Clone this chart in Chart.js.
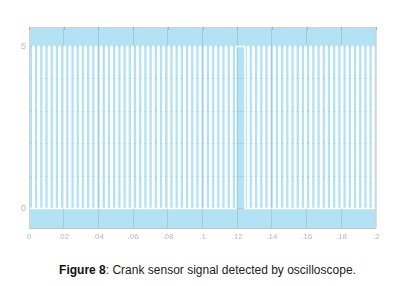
<!DOCTYPE html>
<html>
<head>
<meta charset="utf-8">
<script src="https://cdn.jsdelivr.net/npm/chart.js@4.4.0/dist/chart.umd.min.js"></script>
<style>
  html, body { margin: 0; padding: 0; background: #fff; }
  body { width: 415px; height: 286px; position: relative; overflow: hidden; }
  #wrap { position: absolute; left: 0; top: 0; width: 415px; height: 245px; }
  #caption {
    position: absolute; left: 0; top: 262px; width: 415px; text-align: center;
    font-family: "Liberation Sans", Arial, sans-serif; font-size: 12px; line-height: 16px; color: #222;
  }
  #caption b { color: #111; }
</style>
</head>
<body>
<div id="wrap"><canvas id="scope" width="415" height="245"></canvas></div>
<div id="caption"><b>Figure 8</b>: Crank sensor signal detected by oscilloscope.</div>
<script>
// signal levels (V)
const lowLevel = 0;
const highLevel = 5;

// times (s) where the signal goes high / back low
const riseTimes = [
  0.0022, 0.0052, 0.0082, 0.0112, 0.0142, 0.0172, 0.0202, 0.0232, 0.0262, 0.0292,
  0.0322, 0.0352, 0.0382, 0.0412, 0.0442, 0.0472, 0.0502, 0.0532, 0.0562, 0.0592,
  0.0622, 0.0652, 0.0682, 0.0712, 0.0742, 0.0772, 0.0802, 0.0832, 0.0862, 0.0892,
  0.0922, 0.0952, 0.0982, 0.1012, 0.1042, 0.1072, 0.1102, 0.1132, 0.1162, 0.1192,
  0.1260, 0.1290, 0.1320, 0.1350, 0.1380, 0.1410, 0.1440, 0.1470, 0.1500, 0.1530,
  0.1560, 0.1590, 0.1620, 0.1650, 0.1680, 0.1710, 0.1740, 0.1770, 0.1800, 0.1830,
  0.1860, 0.1890, 0.1920, 0.1950, 0.1980
];
const fallTimes = [
  0.0030, 0.0060, 0.0090, 0.0120, 0.0150, 0.0180, 0.0210, 0.0240, 0.0270, 0.0300,
  0.0330, 0.0360, 0.0390, 0.0420, 0.0450, 0.0480, 0.0510, 0.0540, 0.0570, 0.0600,
  0.0630, 0.0660, 0.0690, 0.0720, 0.0750, 0.0780, 0.0810, 0.0840, 0.0870, 0.0900,
  0.0930, 0.0960, 0.0990, 0.1020, 0.1050, 0.1080, 0.1110, 0.1140, 0.1170, 0.1245,
  0.1268, 0.1298, 0.1328, 0.1358, 0.1388, 0.1418, 0.1448, 0.1478, 0.1508, 0.1538,
  0.1568, 0.1598, 0.1628, 0.1658, 0.1688, 0.1718, 0.1748, 0.1778, 0.1808, 0.1838,
  0.1868, 0.1898, 0.1928, 0.1958, 0.1988
];

const timeRange = [0, 0.2];
const xTickValues = [0, 0.02, 0.04, 0.06, 0.08, 0.1, 0.12, 0.14, 0.16, 0.18, 0.2];
const xTickLabels = ['0', '.02', '.04', '.06', '.08', '.1', '.12', '.14', '.16', '.18', '.2'];
const yGridValues = [0, 1, 2, 3, 4, 5];
const yTickLabels = { 0: '0', 5: '5' };

// square wave points
const trace = [{ x: timeRange[0], y: lowLevel }];
riseTimes.forEach((t, i) => {
  trace.push({ x: t, y: lowLevel }, { x: t, y: highLevel });
  trace.push({ x: fallTimes[i], y: highLevel }, { x: fallTimes[i], y: lowLevel });
});
trace.push({ x: timeRange[1], y: lowLevel });

const plotFrame = {
  id: 'plotFrame',
  beforeDraw(chart) {
    const { ctx, chartArea: a } = chart;
    ctx.save();
    ctx.fillStyle = '#b3e2f5';
    ctx.fillRect(a.left, a.top, a.right - a.left, a.bottom - a.top);
    ctx.restore();
  },
  afterDraw(chart) {
    const { ctx, chartArea: a, scales } = chart;
    ctx.save();
    ctx.strokeStyle = '#cfd3d5';
    ctx.lineWidth = 1;
    ctx.strokeRect(a.left + 0.5, a.top + 0.5, a.right - a.left - 1, a.bottom - a.top);
    // little marks on the top edge
    ctx.strokeStyle = '#a9b0b4';
    xTickValues.forEach(v => {
      const x = Math.round(scales.x.getPixelForValue(v)) + 0.5;
      ctx.beginPath();
      ctx.moveTo(x, a.top);
      ctx.lineTo(x, a.top + 3);
      ctx.stroke();
    });
    ctx.strokeStyle = '#bfc4c7';
    ctx.beginPath();
    ctx.moveTo(a.left, a.bottom + 0.5);
    ctx.lineTo(a.right, a.bottom + 0.5);
    ctx.stroke();
    ctx.restore();
  }
};

new Chart(document.getElementById('scope'), {
  type: 'line',
  data: {
    datasets: [{
      data: trace,
      borderColor: '#ffffff',
      borderWidth: 1.5,
      pointRadius: 0,
      tension: 0,
      fill: false
    }]
  },
  options: {
    responsive: false,
    animation: false,
    layout: { padding: { left: 0, right: 39, top: 27, bottom: 0 } },
    plugins: { legend: { display: false }, tooltip: { enabled: false } },
    scales: {
      x: {
        type: 'linear',
        min: timeRange[0],
        max: timeRange[1],
        afterBuildTicks: s => { s.ticks = xTickValues.map(v => ({ value: v })); },
        afterFit: s => { s.height = 17; },
        ticks: {
          color: '#b8b8b8',
          font: { family: 'Liberation Sans', size: 8 },
          padding: 4,
          maxRotation: 0,
          autoSkip: false,
          callback: (v, i) => xTickLabels[i]
        },
        grid: { color: 'rgba(140,160,170,0.35)', drawTicks: false },
        border: { display: false }
      },
      y: {
        min: -0.6,
        max: 5.6,
        afterBuildTicks: s => { s.ticks = yGridValues.map(v => ({ value: v })); },
        afterFit: s => { s.width = 29; },
        ticks: {
          color: '#b8b8b8',
          font: { family: 'Liberation Sans', size: 9 },
          padding: 3,
          autoSkip: false,
          callback: v => yTickLabels[v] || ''
        },
        grid: { color: 'rgba(140,160,170,0.25)', drawTicks: false },
        border: { display: false }
      }
    }
  },
  plugins: [plotFrame]
});
</script>
</body>
</html>
